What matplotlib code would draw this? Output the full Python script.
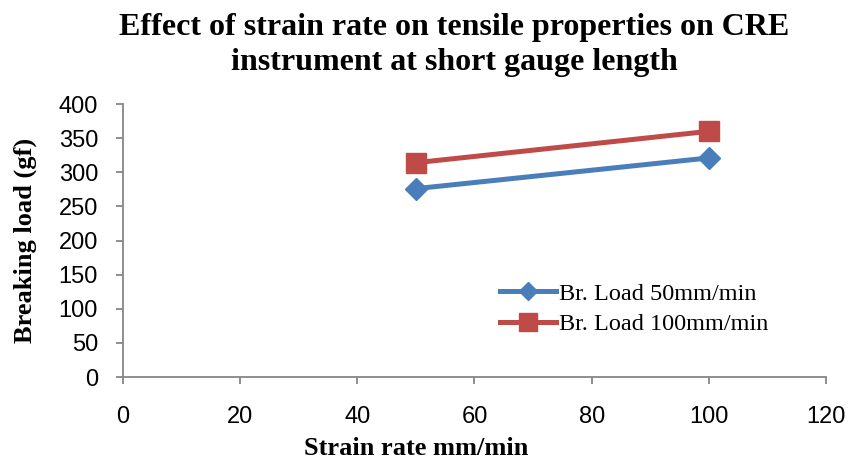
import matplotlib
matplotlib.use('Agg')
import matplotlib.pyplot as plt

strain_rate = [50, 100]
load_50 = [276, 321]
load_100 = [314, 360]
x_ticks = [0, 20, 40, 60, 80, 100, 120]
y_ticks = [0, 50, 100, 150, 200, 250, 300, 350, 400]

SERIF = 'Liberation Serif'
SANS = 'Liberation Sans'

fig = plt.figure(figsize=(8.51, 4.59), dpi=100)
ax = fig.add_axes([0.1445, 0.1786, 0.8261, 0.5948])

ax.plot(strain_rate, load_50, color='#4a7ebb', linewidth=3.6, marker='D',
        markersize=11, label='Br. Load 50mm/min')
ax.plot(strain_rate, load_100, color='#be4b48', linewidth=3.6, marker='s',
        markersize=15, label='Br. Load 100mm/min')

ax.set_xlim(0, 120)
ax.set_ylim(0, 400)
ax.set_xticks(x_ticks)
ax.set_yticks(y_ticks)
for side in ['top', 'right']:
    ax.spines[side].set_visible(False)
for side in ['left', 'bottom']:
    ax.spines[side].set_color('#868686')
    ax.spines[side].set_linewidth(1.3)
ax.tick_params(colors='#868686', length=5, width=1.3, labelcolor='black', labelsize=17)
ax.tick_params(axis='x', pad=16)
ax.tick_params(axis='y', pad=13)
for lab in ax.get_xticklabels() + ax.get_yticklabels():
    lab.set_family(SANS)

ax.set_xlabel('Strain rate mm/min', family=SERIF, fontweight='bold', fontsize=19, va='center')
ax.set_ylabel('Breaking load (gf)', family=SERIF, fontweight='bold', fontsize=19, va='center')
ax.xaxis.set_label_coords(0.417, -0.262)
ax.yaxis.set_label_coords(-0.139, 0.5)

fig.text(0.534, 0.972, 'Effect of strain rate on tensile properties on CRE\ninstrument at short gauge length',
         family=SERIF, fontweight='bold', fontsize=23, ha='center', va='top', linespacing=1.3)

ax.legend(loc='center left', bbox_to_anchor=(0.537, 0.25), frameon=False,
          prop={'family': SERIF, 'size': 17.5}, handlelength=2.3, borderpad=0,
          borderaxespad=0, labelspacing=0.35, handletextpad=0.1, markerscale=0.85)

fig.savefig('out.png', dpi=100)
